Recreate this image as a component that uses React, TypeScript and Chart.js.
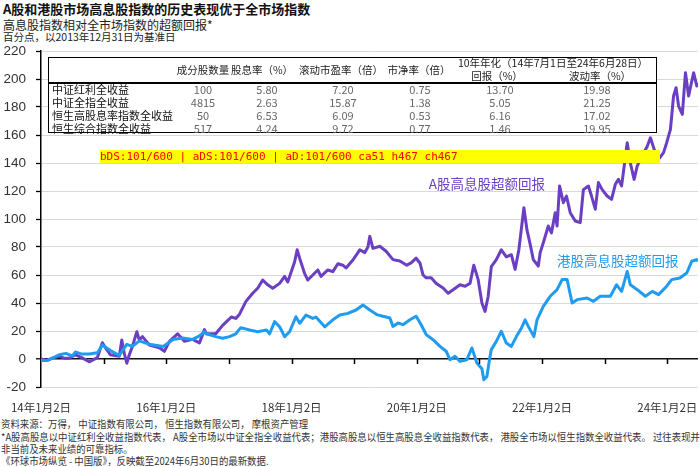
import React, { useEffect, useRef, useState } from 'react';
import { Chart, registerables } from 'chart.js';

Chart.register(...registerables);

// ---------------- DATA ----------------
const titleText = 'A股和港股市场高息股指数的历史表现优于全市场指数';
const subtitleText = '高息股指数相对全市场指数的超额回报*';
const unitText = '百分点，以2013年12月31日为基准日';

const xLabelYears = [2014, 2016, 2018, 2020, 2022, 2024];
const xTickYears = [2015, 2016, 2017, 2018, 2019, 2020, 2021, 2022, 2023, 2024];
const yTicks = [-20, 0, 20, 40, 60, 80, 100, 120, 140, 160, 180, 200, 220];

const aShareLabel = 'A股高息股超额回报';
const hkShareLabel = '港股高息股超额回报';
const aShareLabelAt: [number, number] = [2020.19, 125];
const hkShareLabelAt: [number, number] = [2022.24, 70];

const aShareSeries: [number, number][] = [
  [2014.00, 0], [2014.10, -1], [2014.20, 1], [2014.29, 2], [2014.38, 0.5], [2014.45, 0.5], [2014.55, 3],
  [2014.65, 1], [2014.77, -2], [2014.90, 1], [2014.98, 11.6], [2015.03, 8], [2015.11, 3], [2015.25, 2],
  [2015.29, 13.5], [2015.33, 4], [2015.37, -3], [2015.41, 3], [2015.46, 9], [2015.53, 19.5], [2015.57, 13.5],
  [2015.62, 16], [2015.73, 10], [2015.89, 8], [2015.97, 5.5], [2016.05, 12.6], [2016.18, 18], [2016.29, 12.6],
  [2016.42, 14], [2016.53, 11.5], [2016.61, 21], [2016.64, 18], [2016.79, 18], [2016.90, 24], [2017.04, 30],
  [2017.11, 29], [2017.17, 32], [2017.27, 41], [2017.38, 47], [2017.46, 50.5], [2017.54, 56.4], [2017.62, 53],
  [2017.70, 50.5], [2017.81, 54], [2017.89, 59], [2017.94, 55], [2018.05, 69.5], [2018.09, 78], [2018.13, 72],
  [2018.21, 61], [2018.26, 56.4], [2018.34, 60], [2018.42, 63.6], [2018.47, 59], [2018.58, 63.6], [2018.66, 62.4],
  [2018.74, 68], [2018.82, 67], [2018.87, 65], [2018.98, 70.7], [2019.09, 78], [2019.17, 76], [2019.22, 80],
  [2019.25, 87.6], [2019.30, 79], [2019.41, 80.5], [2019.51, 77], [2019.62, 71], [2019.73, 70], [2019.84, 67],
  [2019.91, 68.6], [2019.99, 72], [2020.05, 68.6], [2020.10, 60], [2020.15, 58], [2020.23, 58], [2020.31, 54],
  [2020.42, 50.7], [2020.50, 47], [2020.58, 49.5], [2020.69, 53], [2020.77, 52], [2020.85, 54], [2020.91, 67],
  [2020.98, 56.7], [2021.04, 40], [2021.09, 34], [2021.14, 44.8], [2021.19, 66], [2021.27, 71], [2021.35, 78],
  [2021.43, 73], [2021.51, 74.5], [2021.57, 64], [2021.63, 78], [2021.71, 108], [2021.76, 92], [2021.81, 82],
  [2021.86, 71], [2021.94, 66.4], [2021.97, 76], [2022.02, 83], [2022.10, 95], [2022.15, 90], [2022.21, 104.5],
  [2022.24, 95], [2022.28, 123.6], [2022.34, 111.7], [2022.39, 116.4], [2022.45, 104.5], [2022.53, 98.6],
  [2022.61, 97.4], [2022.66, 121], [2022.74, 123.6], [2022.79, 116.4], [2022.85, 107], [2022.90, 126],
  [2022.96, 121], [2023.04, 116.4], [2023.11, 114], [2023.17, 124.8], [2023.22, 128.3], [2023.27, 123.6],
  [2023.36, 154.5], [2023.41, 140], [2023.47, 128.3], [2023.52, 137.9], [2023.60, 145], [2023.68, 152],
  [2023.73, 158], [2023.79, 149.8], [2023.86, 142.6], [2023.94, 147.4], [2023.99, 154.5], [2024.05, 164],
  [2024.10, 187.9], [2024.14, 193.8], [2024.18, 180.7], [2024.24, 174.8], [2024.29, 204.5], [2024.34, 187.9],
  [2024.42, 204.5], [2024.47, 195], [2024.49, 197],
];

const hkShareSeries: [number, number][] = [
  [2014.00, -1], [2014.10, -1], [2014.20, 1], [2014.29, 3], [2014.40, 4], [2014.50, 2], [2014.55, 5],
  [2014.65, 3.5], [2014.77, 3.5], [2014.90, 4.5], [2014.98, 10], [2015.11, 6], [2015.25, 2.5], [2015.37, 10.5],
  [2015.46, 9], [2015.57, 13], [2015.73, 10.5], [2015.95, 9], [2016.11, 14], [2016.26, 15], [2016.42, 14],
  [2016.53, 16.5], [2016.61, 19.5], [2016.64, 18], [2016.79, 16], [2016.90, 14.8], [2017.01, 16], [2017.11, 18],
  [2017.19, 22.4], [2017.33, 20.7], [2017.46, 19.5], [2017.60, 20.7], [2017.65, 18], [2017.73, 26.7],
  [2017.81, 23], [2017.89, 16], [2017.97, 19.5], [2018.07, 30.2], [2018.13, 25.5], [2018.23, 31.4],
  [2018.34, 29], [2018.39, 30], [2018.53, 23], [2018.66, 28], [2018.77, 31.4], [2018.90, 32.6], [2019.03, 35],
  [2019.14, 38.6], [2019.25, 35], [2019.36, 31.7], [2019.46, 30.5], [2019.57, 29.3], [2019.62, 23.3],
  [2019.70, 25.7], [2019.78, 24.5], [2019.89, 28], [2019.99, 30.5], [2020.07, 24.5], [2020.15, 17.4],
  [2020.26, 13.8], [2020.37, 9], [2020.47, 5.5], [2020.53, -0.5], [2020.61, 2], [2020.69, -1.7], [2020.80, -0.5],
  [2020.88, 7.9], [2020.96, -2.9], [2021.04, -7], [2021.07, -14.8], [2021.12, -12.4], [2021.16, -0.5],
  [2021.19, 6.7], [2021.27, 12.6], [2021.35, 19.8], [2021.43, 11.4], [2021.51, 9], [2021.59, 16], [2021.67, 22],
  [2021.73, 28], [2021.78, 23.3], [2021.87, 16], [2021.92, 28], [2022.02, 37.6], [2022.13, 44.8], [2022.24, 49.5],
  [2022.32, 56.7], [2022.40, 56.7], [2022.48, 40], [2022.56, 42.4], [2022.72, 43.6], [2022.82, 41.2],
  [2022.93, 44.8], [2023.09, 44.8], [2023.19, 53], [2023.27, 48.3], [2023.36, 62.6], [2023.41, 53],
  [2023.52, 49.5], [2023.65, 44.8], [2023.76, 48.3], [2023.86, 46], [2023.99, 52], [2024.07, 56.7],
  [2024.20, 57.9], [2024.31, 61.4], [2024.39, 69.8], [2024.47, 71], [2024.49, 70],
];

const tableHeaders = ['成分股数量', '股息率（%）', '滚动市盈率（倍）', '市净率（倍）'];
const tableGroupHeader = '10年年化（14年7月1日至24年6月28日）';
const tableSubHeaders = ['回报（%）', '波动率（%）'];
const indexNames = ['中证红利全收益', '中证全指全收益', '恒生高股息率指数全收益', '恒生综合指数全收益'];
const constituents = ['100', '4815', '50', '517'];
const dividendYield = ['5.80', '2.63', '6.53', '4.24'];
const trailingPE = ['7.20', '15.87', '6.09', '9.72'];
const priceToBook = ['0.75', '1.38', '0.53', '0.77'];
const annualReturn = ['13.70', '5.05', '6.16', '1.46'];
const annualVol = ['19.98', '21.25', '17.02', '19.95'];

const footnotes = [
  '资料来源：万得， 中证指数有限公司， 恒生指数有限公司， 摩根资产管理',
  '*A股高股息以中证红利全收益指数代表， A股全市场以中证全指全收益代表；港股高股息以恒生高股息全收益指数代表， 港股全市场以恒生指数全收益代表。 过往表现并',
  '非当前及未来业绩的可靠指标。',
  '《环球市场纵览 - 中国版》，反映截至2024年6月30日的最新数据.',
];

const PURPLE = '#6b3fc3';
const BLUE = '#1f9cf0';
const CJK = '"Noto Sans CJK SC", "Noto Sans", sans-serif';

function countInk(ctx: CanvasRenderingContext2D, x: number, y: number, w: number, h: number) {
  const d = ctx.getImageData(x, y, w, h).data;
  let n = 0;
  for (let i = 3; i < d.length; i += 4) if (d[i] > 40) n++;
  return n;
}

const probes: string[] = [];

const overlayPlugin = {
  id: 'overlay',
  afterDatasetsDraw(chart: any) {
    const { ctx, scales } = chart;
    probes.push('aDS:' + countInk(ctx, 0, 42, 40, 18) + '/' + countInk(ctx, 42, 49, 600, 4));
    const x = scales.x;
    const y = scales.y;
    const y0 = y.getPixelForValue(0);
    ctx.save();
    ctx.strokeStyle = '#000';
    ctx.lineWidth = 1.5;
    for (const yr of xTickYears) {
      const px = Math.round(x.getPixelForValue(yr)) + 0.5;
      ctx.beginPath();
      ctx.moveTo(px, y0);
      ctx.lineTo(px, y0 + 5);
      ctx.stroke();
    }
    ctx.textBaseline = 'middle';
    ctx.textAlign = 'left';
    ctx.font = `13.5px ${CJK}`;
    ctx.fillStyle = PURPLE;
    ctx.fillText(aShareLabel, x.getPixelForValue(aShareLabelAt[0]), y.getPixelForValue(aShareLabelAt[1]));
    ctx.fillStyle = BLUE;
    ctx.fillText(hkShareLabel, x.getPixelForValue(hkShareLabelAt[0]), y.getPixelForValue(hkShareLabelAt[1]));
    ctx.restore();
  },
  beforeDatasetsDraw(chart: any) {
    probes.push('bDS:' + countInk(chart.ctx, 0, 42, 40, 18) + '/' + countInk(chart.ctx, 42, 49, 600, 4));
  },
  afterDraw(chart: any) {
    probes.push('aD:' + countInk(chart.ctx, 0, 42, 40, 18) + '/' + countInk(chart.ctx, 42, 49, 600, 4) + ' ca' + Math.round(chart.chartArea.top) + ' h' + chart.height + ' ch' + chart.canvas.height);
  },
};

function Txt(props: { x: number; y: number; align?: 'left' | 'center'; size?: number; color?: string; children: React.ReactNode }) {
  const { x, y, align = 'center', size = 11, color = '#222' } = props;
  const style: React.CSSProperties = {
    position: 'absolute', top: y - 7, height: 14, lineHeight: '14px', fontSize: size,
    fontFamily: CJK, color, whiteSpace: 'nowrap', zIndex: 3,
  };
  if (align === 'center') { style.left = x - 60; style.width = 120; style.textAlign = 'center'; }
  else { style.left = x; style.width = 150; }
  return <div style={style}>{props.children}</div>;
}

export default function App() {
  const canvasRef = useRef<HTMLCanvasElement | null>(null);
  const [dbg, setDbg] = useState('');

  useEffect(() => {
    if (!canvasRef.current) return;
    const chart = new Chart(canvasRef.current, {
      type: 'line',
      data: {
        datasets: [
          { label: hkShareLabel, data: hkShareSeries.map(([x, y]) => ({ x, y })), borderColor: BLUE, borderWidth: 3, pointRadius: 0, tension: 0, borderJoinStyle: 'round' },
          { label: aShareLabel, data: aShareSeries.map(([x, y]) => ({ x, y })), borderColor: PURPLE, borderWidth: 3, pointRadius: 0, tension: 0, borderJoinStyle: 'round' },
        ],
      },
      options: {
        animation: false,
        responsive: false,
        devicePixelRatio: 1,
        parsing: false,
        layout: { padding: { top: 51, right: 2, bottom: 50, left: 0 } },
        plugins: { legend: { display: false }, tooltip: { enabled: false } },
        scales: {
          x: {
            type: 'linear', min: 2014, max: 2024.49,
            grid: { display: false, drawTicks: false },
            border: { display: false },
            afterBuildTicks: (s: any) => { s.ticks = xLabelYears.map((v) => ({ value: v })); },
            afterFit: (s: any) => { s.height = 30; s.paddingLeft = 0; s.paddingRight = 0; },
            ticks: { autoSkip: false, maxRotation: 0, padding: 14, color: '#333', font: { family: CJK, size: 11.5 }, callback: (v: any) => `${String(v).slice(2)}年1月2日` },
          },
          y: {
            type: 'linear', min: -20, max: 220,
            afterBuildTicks: (s: any) => { s.ticks = yTicks.map((v) => ({ value: v })); },
            afterFit: (s: any) => { s.width = 41; },
            ticks: { autoSkip: false, padding: 10, color: '#333', font: { size: 13.5 } },
            grid: {
              color: (c: any) => (c.tick && c.tick.value === 0 ? '#111' : '#d9d9d9'),
              lineWidth: (c: any) => (c.tick && c.tick.value === 0 ? 1.6 : 1),
              tickColor: '#000', tickLength: 5, tickWidth: 1.3,
            },
            border: { color: '#000', width: 1.5 },
          },
        },
      },
      plugins: [overlayPlugin],
    } as any);
    setDbg(probes.join(' | '));
    return () => chart.destroy();
  }, []);

  const valueCols = [203, 267, 343, 420, 500, 597];
  const rowYs = [89, 102, 115, 128];
  const valueArrays = [constituents, dividendYield, trailingPE, priceToBook, annualReturn, annualVol];

  return (
    <div style={{ position: 'absolute', left: 0, top: 0, width: 700, height: 467 }}>
      <div style={{ position: 'absolute', left: 3, top: 1, fontFamily: CJK, fontWeight: 700, fontSize: 13, lineHeight: '16px', color: '#111', whiteSpace: 'nowrap', zIndex: 0 }}>{titleText}</div>
      <div style={{ position: 'absolute', left: 3, top: 18, fontFamily: CJK, fontSize: 12, lineHeight: '14px', color: '#222', whiteSpace: 'nowrap', zIndex: 0 }}>{subtitleText}</div>
      <div style={{ position: 'absolute', left: 3, top: 30, fontFamily: CJK, fontSize: 10.5, lineHeight: '13px', color: '#222', whiteSpace: 'nowrap', zIndex: 0 }}>{unitText}</div>
      {footnotes.map((f, i) => (
        <div key={'f' + i} style={{ position: 'absolute', left: 1, top: [418, 431, 443, 455][i], fontFamily: CJK, fontSize: 10, lineHeight: '12px', color: '#333', whiteSpace: 'nowrap', transform: 'scaleX(0.94)', transformOrigin: 'left top', zIndex: 0 }}>{f}</div>
      ))}
      <canvas ref={canvasRef} width={700} height={467} style={{ position: 'absolute', left: 0, top: 0, zIndex: 1 }} />
      <div style={{ position: 'absolute', left: 48, top: 57, width: 609, height: 76, border: '1.5px solid #000', boxSizing: 'border-box', background: '#fff', zIndex: 2 }} />
      <div style={{ position: 'absolute', left: 48, top: 82, width: 609, height: 2, background: '#000', zIndex: 3 }} />
      <Txt x={203} y={70} size={10.5}>{tableHeaders[0]}</Txt>
      <Txt x={262} y={70} size={10.5}>{tableHeaders[1]}</Txt>
      <Txt x={341} y={70} size={10.5}>{tableHeaders[2]}</Txt>
      <Txt x={419} y={70} size={10.5}>{tableHeaders[3]}</Txt>
      <div style={{ position: 'absolute', left: 453, top: 56, width: 200, textAlign: 'center', fontFamily: CJK, fontSize: 10.5, lineHeight: '14px', color: '#222', whiteSpace: 'nowrap', zIndex: 3 }}>{tableGroupHeader}</div>
      <Txt x={497} y={76} size={10.5}>{tableSubHeaders[0]}</Txt>
      <Txt x={600} y={76} size={10.5}>{tableSubHeaders[1]}</Txt>
      {indexNames.map((n, i) => (<Txt key={'n' + i} x={52} y={rowYs[i]} align="left" size={11} color="#111">{n}</Txt>))}
      {valueArrays.map((arr, c) => arr.map((v, r) => (<Txt key={`v${c}-${r}`} x={valueCols[c]} y={rowYs[r]} size={11} color="#666">{v}</Txt>)))}
      <div style={{ position: 'absolute', left: 100, top: 150, width: 560, fontSize: 11, fontFamily: 'monospace', color: 'red', background: '#ff0', zIndex: 5, whiteSpace: 'normal', wordBreak: 'break-all' }}>{dbg}</div>
    </div>
  );
}
